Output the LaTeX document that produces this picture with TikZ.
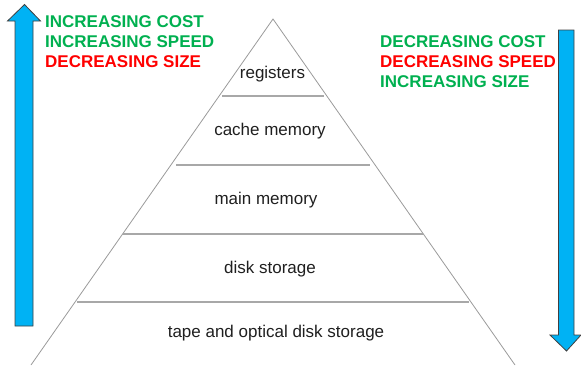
\documentclass[tikz,border=0pt]{standalone}
\usepackage{fontspec}
\setmainfont{Liberation Sans}
\definecolor{arrowblue}{HTML}{00B2F4}
\definecolor{arrowedge}{HTML}{404040}
\definecolor{okgreen}{HTML}{00B050}
\definecolor{badred}{HTML}{FF0000}
\definecolor{sidegray}{HTML}{9A9A9A}
\definecolor{levelgray}{HTML}{A8A8A8}
\tikzset{
  bigarrow/.style={fill=arrowblue, draw=arrowedge, line width=0.8pt, line join=miter},
  side/.style={draw=sidegray, line width=0.8pt},
  level/.style={draw=levelgray, line width=1.6pt},
  lvl/.style={font=\fontsize{17}{20}\selectfont, text=black!88, inner sep=0pt},
  note/.style={font=\bfseries\fontsize{17}{20}\selectfont, inner sep=0pt, anchor=base west},
}
\begin{document}
\begin{tikzpicture}[x=1pt,y=-1pt]
\useasboundingbox (0,0) rectangle (581,365);
% arrows
\draw[bigarrow] (15,326) -- (15,21) -- (7.5,21) -- (24.5,4.5) -- (40.5,21) -- (33,21) -- (33,326) -- cycle;
\draw[bigarrow] (558.5,30) -- (558.5,335) -- (550,335) -- (566.5,351) -- (581,335) -- (574,335) -- (574,30) -- cycle;
% pyramid
\coordinate (apex) at (273,19);
\coordinate (bl) at (31,365);
\coordinate (br) at (515,365);
\draw[side] (bl) -- (apex) -- (br);
\coordinate (l1a) at (222,96); \coordinate (l1b) at (324,96);
\coordinate (l2a) at (176,165); \coordinate (l2b) at (370,165);
\coordinate (l3a) at (123,234); \coordinate (l3b) at (423,234);
\coordinate (l4a) at (77,302); \coordinate (l4b) at (469,302);
\draw[level] (l1a) -- (l1b);
\draw[level] (l2a) -- (l2b);
\draw[level] (l3a) -- (l3b);
\draw[level] (l4a) -- (l4b);
% level labels
\node[lvl] (reg) at (272.5,74) {registers};
\node[lvl] (cache) at (270,131) {cache memory};
\node[lvl] (main) at (266,200) {main memory};
\node[lvl] (disk) at (270,269) {disk storage};
\node[lvl] (tape) at (276,333) {tape and optical disk storage};
% notes
\node[note, text=okgreen] (lc) at (45,27) {INCREASING COST};
\node[note, text=okgreen] (ls) at (45,47) {INCREASING SPEED};
\node[note, text=badred] (lz) at (45,67) {DECREASING SIZE};
\node[note, text=okgreen] (rc) at (380,47) {DECREASING COST};
\node[note, text=badred] (rs) at (380,67) {DECREASING SPEED};
\node[note, text=okgreen] (rz) at (380,87) {INCREASING SIZE};
\end{tikzpicture}
\end{document}
